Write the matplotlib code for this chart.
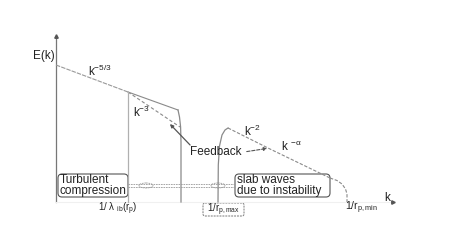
import matplotlib
matplotlib.use("Agg")
import matplotlib.pyplot as plt
from matplotlib.patches import FancyBboxPatch, Ellipse

plt.rcParams['font.family'] = ['Liberation Sans', 'DejaVu Sans']
plt.rcParams['mathtext.fontset'] = 'custom'
plt.rcParams['mathtext.rm'] = 'Liberation Sans'
plt.rcParams['mathtext.it'] = 'Liberation Sans'

# schematic spectrum, coordinates in picture units (y grows downward)
axis_y_x = [56, 56]
axis_y_y = [202, 37]
axis_x_x = [56, 392]
axis_x_y = [202, 202]

inertial_x = [56, 128]
inertial_y = [65, 92]
upper_x = [128, 178]
upper_y = [92, 110]
cliff1_x = [178, 179.5, 180.6, 181, 181]
cliff1_y = [110, 117, 127, 142, 202]
steep_x = [128, 180]
steep_y = [92, 127]
lambda_x = [128, 128]
lambda_y = [92, 202]

bump_x = [218, 218.3, 219.5, 222, 225, 228]
bump_y = [202, 165, 146, 135, 130, 128]
slab_x = [228, 270, 330]
slab_y = [128, 149, 178]
cliff2_x = [330, 337, 342, 345.5, 347, 347]
cliff2_y = [178, 180.5, 184, 189, 194, 202]

fig = plt.figure(figsize=(4.57, 2.42), dpi=100)
ax = fig.add_axes([0, 0, 1, 1])
ax.set_xlim(0, 457)
ax.set_ylim(242, 0)
ax.axis('off')

grey = '#8a8a8a'
ax.plot(axis_y_x, axis_y_y, color='#777777', lw=0.9)
ax.plot(56, 36, marker='^', ms=2.5, color='#555555')
ax.plot(axis_x_x, axis_x_y, color='#f0f0f0', lw=0.8)
ax.plot(393, 202, marker='>', ms=2.5, color='#555555')

ax.plot(inertial_x, inertial_y, color='#999999', lw=0.8, ls=(0, (4, 1)))
ax.plot(upper_x, upper_y, color=grey, lw=0.8)
ax.plot(cliff1_x, cliff1_y, color=grey, lw=0.9)
ax.plot(steep_x, steep_y, color=grey, lw=0.8, ls=(0, (3, 2)))
ax.plot(lambda_x, lambda_y, color='#b0b0b0', lw=0.9)
ax.plot(bump_x, bump_y, color=grey, lw=0.9)
ax.plot(slab_x, slab_y, color=grey, lw=0.8, ls=(0, (3, 1.5)))
ax.plot(cliff2_x, cliff2_y, color=grey, lw=0.8, ls=(0, (3, 1.5)))

# feedback arrows
ax.annotate('', xy=(168, 122), xytext=(192, 147),
            arrowprops=dict(arrowstyle='-|>', color='#555555', lw=0.9, mutation_scale=5))
ax.annotate('', xy=(270, 148), xytext=(244, 152),
            arrowprops=dict(arrowstyle='-|>', color='#555555', lw=0.8, ls=(0, (3, 1.5)), mutation_scale=5))

# double dashed connector between boxes
for yy in (184, 187):
    ax.plot([128, 235], [yy, yy], color='#999999', lw=0.6, ls=(0, (2, 1)))
for ex in (146, 218):
    ax.add_patch(Ellipse((ex, 185.5), 14, 5, fill=False, ec='#999999', lw=0.6, ls=(0, (2, 1))))

txt = '#222222'
fs = 8.5
ax.text(33, 56, 'E(k)', fontsize=fs, color=txt, va='center')
ax.text(88, 71, 'k$^{-5/3}$', fontsize=fs, color=txt, va='center')
ax.text(133, 112, 'k$^{-3}$', fontsize=fs, color=txt, va='center')
ax.text(244, 131, 'k$^{-2}$', fontsize=fs, color=txt, va='center')
ax.text(281, 147, 'k $^{-\\alpha}$', fontsize=fs, color=txt, va='center')
ax.text(190, 152, 'Feedback', fontsize=fs, color=txt, va='center')
ax.text(384, 198, 'k', fontsize=fs, color=txt, va='center')

ax.add_patch(FancyBboxPatch((58, 174), 70, 23, boxstyle='round,pad=0,rounding_size=4',
                            fill=False, ec='#555555', lw=0.8))
ax.text(60, 185.5, 'Turbulent\ncompression', fontsize=fs, color=txt, va='center',
        linespacing=0.95)
ax.add_patch(FancyBboxPatch((235, 174), 95, 23, boxstyle='round,pad=0,rounding_size=4',
                            fill=False, ec='#555555', lw=0.8))
ax.text(237, 185.5, 'slab waves\ndue to instability', fontsize=fs, color=txt, va='center',
        linespacing=0.95)

ax.text(118, 209, '1/ $\\lambda$ $_{\\rm ib}$(r$_{\\rm p}$)', fontsize=7, color=txt,
        ha='center', va='center')
ax.add_patch(FancyBboxPatch((203, 203), 41, 13, boxstyle='round,pad=0,rounding_size=2',
                            fill=False, ec='#777777', lw=0.7, ls=(0, (2, 1))))
ax.text(223.5, 209.5, '1/r$_{\\rm p,max}$', fontsize=7, color=txt, ha='center', va='center')
ax.text(361, 208, '1/r$_{\\rm p,min}$', fontsize=7.5, color=txt, ha='center', va='center')

fig.savefig('out.png', dpi=100)
